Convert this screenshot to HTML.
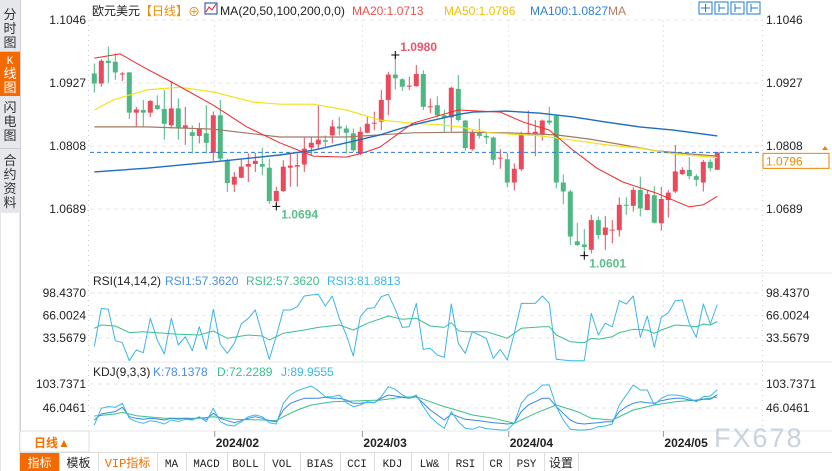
<!DOCTYPE html>
<html><head><meta charset="utf-8"><style>
body{margin:0;background:#fff;overflow:hidden}
svg{display:block;font-family:"Liberation Sans","Noto Sans CJK SC",sans-serif}
.mono{font-family:"Liberation Mono","Noto Sans CJK SC",monospace}
</style></head><body>
<svg id="c" width="832" height="471" viewBox="0 0 832 471">
<rect x="0" y="0" width="832" height="471" fill="#fff"/>
<g>
<rect x="0" y="0" width="20" height="471" fill="#e6e7ec"/>
<rect x="20" y="0" width="1" height="471" fill="#d0d0d8"/>
<g><text x="10" y="19" font-size="13" text-anchor="middle" fill="#333">分</text><text x="10" y="33" font-size="13" text-anchor="middle" fill="#333">时</text><text x="10" y="47" font-size="13" text-anchor="middle" fill="#333">图</text></g>
<rect x="0" y="51" width="20" height="1" fill="#ccc"/>
<g><rect x="0" y="52" width="20" height="44" fill="#f56a00"/><text x="10" y="64" font-size="11" text-anchor="middle" fill="#fff" class="mono">K</text><text x="10" y="78" font-size="13" text-anchor="middle" fill="#fff">线</text><text x="10" y="92" font-size="13" text-anchor="middle" fill="#fff">图</text></g>
<g><text x="10" y="112" font-size="13" text-anchor="middle" fill="#333">闪</text><text x="10" y="126" font-size="13" text-anchor="middle" fill="#333">电</text><text x="10" y="140" font-size="13" text-anchor="middle" fill="#333">图</text></g>
<rect x="0" y="148" width="20" height="1" fill="#ccc"/>
<g><text x="10" y="165" font-size="13" text-anchor="middle" fill="#333">合</text><text x="10" y="179" font-size="13" text-anchor="middle" fill="#333">约</text><text x="10" y="193" font-size="13" text-anchor="middle" fill="#333">资</text><text x="10" y="207" font-size="13" text-anchor="middle" fill="#333">料</text></g>
<rect x="1" y="213" width="18" height="258" fill="#fff"/>
</g>
<g font-size="12">
<text x="92" y="15" fill="#222">欧元美元</text>
<text x="140" y="15" fill="#f08a00">【日线】</text>
<text x="188" y="16" fill="#f08a00">⊕</text>
<rect x="205" y="3" width="12" height="11" fill="#fff" stroke="#1a3fa0"/>
<polyline points="206,12 209,7 212,10 216,4" fill="none" stroke="#e02020"/>
<text x="220" y="15" fill="#222" textLength="125" lengthAdjust="spacingAndGlyphs">MA(20,50,100,200,0,0)</text>
<text x="352" y="15" fill="#f05050">MA20:1.0713</text>
<text x="444" y="15" fill="#f0c000">MA50:1.0786</text>
<text x="530" y="15" fill="#3080d0">MA100:1.0827</text>
<text x="608" y="15" fill="#b08060">MA</text>
<g fill="#fff" stroke="#1a7ad0" stroke-width="1">
<rect x="699" y="2" width="13" height="12"/>
<rect x="715" y="2" width="13" height="12"/>
<rect x="731" y="2" width="13" height="12"/>
<rect x="747" y="2" width="13" height="12"/>
</g>
<g stroke="#1a7ad0" fill="none"><path d="M705.5 4v8M701 8h9M719 4v8M719 8h6M735 4v8M735 8h6M751 4v8M751 8h7"/></g>
</g>
<g stroke="#e3e8ec" fill="none">
<line x1="90" y1="273" x2="832" y2="273"/>
<line x1="90" y1="362" x2="832" y2="362"/>
<line x1="20" y1="431" x2="832" y2="431"/>
<line x1="762.5" y1="20" x2="762.5" y2="430" stroke="#ccc" stroke-dasharray="1,4"/>
<line x1="88.5" y1="20" x2="88.5" y2="430" stroke="#ccc" stroke-dasharray="1,4"/>
</g>
<g id="grid"></g>
<g id="marks"></g>
<g id="axes" font-size="12" fill="#222"></g>
<g font-size="12">
<text x="93" y="285" fill="#222">RSI(14,14,2)</text>
<text x="165" y="285" fill="#4a90e2">RSI1:57.3620</text>
<text x="246" y="285" fill="#3cc08a">RSI2:57.3620</text>
<text x="327" y="285" fill="#3bb6e8">RSI3:81.8813</text>
</g>
<g font-size="12">
<text x="93" y="376" fill="#222">KDJ(9,3,3)</text>
<text x="153" y="376" fill="#4a8ee6">K:78.1378</text>
<text x="217" y="376" fill="#3cc08a">D:72.2289</text>
<text x="281" y="376" fill="#3bb6e8">J:89.9555</text>
</g>
<text x="714" y="447" font-size="27" fill="#c9d3dd" letter-spacing="2">FX678</text>
<g font-size="12" fill="#222" font-weight="bold">
<rect x="20" y="431" width="69" height="21" fill="#fff" stroke="#ddd"/>
<text x="34" y="447" fill="#f07000" font-weight="bold">日线▲</text>
</g>
<g id="dates" font-size="12" font-weight="bold" fill="#222"></g>
<g class="mono" font-size="11">
<rect x="20" y="452" width="812" height="19" fill="#fff"/>
<line x1="20" y1="452.5" x2="832" y2="452.5" stroke="#ddd"/>
<g id="tabs"></g>
</g>
</svg>
<script>
// ===== data =====
const dates = ["2024/02","2024/03","2024/04","2024/05"];
const dateIdx = [17.2, 38.3, 59.2, 81.3];
const priceTicks = [1.1046, 1.0927, 1.0808, 1.0689];
const rsiTicks = [98.4370, 66.0024, 33.5679];
const kdjTicks = [103.7371, 46.0461];
const opens = [1.0945,1.0926,1.0969,1.0967,1.0943,1.0947,1.0871,1.0876,1.0871,1.0885,1.0878,1.0847,1.0879,1.0842,1.0834,1.0827,1.0832,1.0795,1.0866,1.0781,1.0735,1.0748,1.0769,1.0774,1.0774,1.0767,1.0704,1.0723,1.0767,1.0769,1.0773,1.0805,1.0811,1.0819,1.0828,1.0845,1.0841,1.0832,1.0794,1.0833,1.0851,1.0854,1.0895,1.0943,1.0934,1.0920,1.0921,1.0944,1.0881,1.0885,1.0866,1.0862,1.0916,1.0856,1.0802,1.0833,1.0827,1.0824,1.0785,1.0783,1.0739,1.0764,1.0831,1.0831,1.0830,1.0856,1.0865,1.0739,1.0722,1.0628,1.0622,1.0612,1.0668,1.0640,1.0649,1.0649,1.0697,1.0695,1.0725,1.0687,1.0715,1.0662,1.0706,1.0722,1.0755,1.0763,1.0751,1.0739,1.0778,1.0763];
const highs = [1.0964,1.0972,1.0996,1.0983,1.0948,1.0948,1.0882,1.0895,1.0895,1.0904,1.0914,1.0931,1.0898,1.0882,1.0847,1.0852,1.0885,1.0873,1.0895,1.0784,1.0759,1.0784,1.0794,1.0795,1.0805,1.0784,1.0731,1.0781,1.0794,1.0794,1.0825,1.0825,1.0885,1.0828,1.0857,1.0863,1.0847,1.0841,1.0844,1.0863,1.0873,1.0914,1.0948,1.0980,1.0936,1.0939,1.0961,1.0951,1.0898,1.0902,1.0876,1.0920,1.0942,1.0857,1.0838,1.0860,1.0835,1.0826,1.0802,1.0795,1.0775,1.0835,1.0875,1.0857,1.0858,1.0882,1.0867,1.0754,1.0725,1.0663,1.0651,1.0678,1.0675,1.0676,1.0668,1.0711,1.0711,1.0730,1.0750,1.0725,1.0732,1.0731,1.0725,1.0810,1.0768,1.0787,1.0755,1.0782,1.0783,1.0797];
const lows = [1.0909,1.0920,1.0928,1.0933,1.0931,1.0859,1.0844,1.0844,1.0863,1.0876,1.0820,1.0841,1.0820,1.0810,1.0794,1.0813,1.0794,1.0780,1.0780,1.0721,1.0721,1.0747,1.0740,1.0759,1.0753,1.0699,1.0694,1.0721,1.0731,1.0731,1.0759,1.0791,1.0803,1.0807,1.0813,1.0828,1.0794,1.0797,1.0791,1.0832,1.0838,1.0838,1.0866,1.0915,1.0912,1.0914,1.0920,1.0876,1.0870,1.0863,1.0835,1.0835,1.0854,1.0799,1.0799,1.0822,1.0812,1.0772,1.0765,1.0730,1.0724,1.0761,1.0829,1.0789,1.0818,1.0848,1.0728,1.0698,1.0621,1.0619,1.0601,1.0605,1.0632,1.0612,1.0624,1.0637,1.0678,1.0684,1.0675,1.0687,1.0662,1.0648,1.0673,1.0719,1.0753,1.0745,1.0732,1.0722,1.0760,1.0763];
const closes = [1.0926,1.0969,1.0965,1.0947,1.0945,1.0871,1.0877,1.0871,1.0893,1.0878,1.0850,1.0879,1.0841,1.0847,1.0827,1.0841,1.0814,1.0866,1.0784,1.0738,1.0750,1.0769,1.0774,1.0780,1.0769,1.0704,1.0723,1.0769,1.0771,1.0772,1.0803,1.0814,1.0820,1.0816,1.0845,1.0841,1.0833,1.0800,1.0835,1.0850,1.0852,1.0895,1.0943,1.0936,1.0920,1.0922,1.0944,1.0882,1.0883,1.0866,1.0862,1.0918,1.0857,1.0804,1.0833,1.0827,1.0824,1.0782,1.0786,1.0739,1.0765,1.0830,1.0833,1.0835,1.0856,1.0852,1.0739,1.0722,1.0637,1.0621,1.0617,1.0668,1.0640,1.0654,1.0650,1.0697,1.0695,1.0725,1.0690,1.0717,1.0663,1.0708,1.0720,1.0760,1.0763,1.0751,1.0744,1.0778,1.0766,1.0796];
const ma20Idx = [0,3.7,7,11.3,17,21.8,26.5,31.3,36,38.4,40.8,45.5,52,58,61.3,65,68.4,71.8,75.5,80.3,85,87,89];
const ma20Val = [1.0974,1.0982,1.0957,1.0927,1.0885,1.0844,1.0814,1.0789,1.0787,1.0795,1.0806,1.0851,1.0876,1.0872,1.0853,1.0838,1.0800,1.0766,1.0740,1.0719,1.0693,1.0697,1.0713];
const ma50Idx = [0,2.7,7.5,12.2,17,22.7,26.5,31.3,36,40.8,45.5,49.4,52.2,56.5,63.7,68.4,73.2,77.9,82.7,89];
const ma50Val = [1.0876,1.0895,1.0914,1.0919,1.0910,1.0891,1.0887,1.0887,1.0876,1.0857,1.0851,1.0848,1.0844,1.0833,1.0827,1.0819,1.0810,1.0804,1.0793,1.0786];
const ma100Idx = [0,7.5,17,26.5,31.3,36,40.8,45.5,52.2,54.1,58.9,63.7,68.4,73.2,77.9,82.7,89];
const ma100Val = [1.0759,1.0766,1.0778,1.0791,1.0800,1.0814,1.0829,1.0848,1.0868,1.0872,1.0874,1.0870,1.0863,1.0853,1.0844,1.0838,1.0827];
const ma200Idx = [0,7.5,17,26.5,36,45.5,52.2,58.9,66,70.8,75.5,80.3,85,89];
const ma200Val = [1.0844,1.0844,1.0840,1.0825,1.0825,1.0833,1.0834,1.0833,1.0829,1.0821,1.0810,1.0799,1.0793,1.0789];
const rsi3 = [21.1,76.3,74.9,29.7,26.8,0.9,16.3,12.4,61.9,30.7,10.5,61.9,23.5,35.5,15.3,49.9,17.2,74.9,24.9,11.5,25.9,53.8,61.9,73.9,37.9,2.8,36.5,73.9,73.9,78.7,94.1,95.5,96.5,79.7,94.1,61.9,37.9,7.6,64.3,76.3,77.3,93.2,96.5,74.9,48.9,49.9,83.5,17.2,18.7,9.1,5.7,82.6,25.9,11.5,42.7,37.9,33.1,4.3,17.2,1.9,40.3,83.5,83.5,83.5,94.1,83.5,2.8,1.9,0.9,0.9,0.9,69.1,37.9,54.7,49.9,87.4,82.6,94.1,34.5,65.3,20.1,63.4,70.1,87.4,88.3,54.7,34.5,82.6,53.8,81.9];
const rsi1Idx = [0,1,3,5,7,10,12,15,17,19,22,24,25,27,30,32,35,37,39,42,44,46,48,50,51,52,53,54,56,58,59,61,64,65,66,68,70,71,72,74,75,77,79,80,81,83,85,86,87,88,89];
const rsi1Val = [47.5,52.3,50.9,41.3,42.7,40.3,38.9,37.9,43.7,33.1,37.9,36.5,30.7,40.3,45.1,48.9,52.3,45.1,54.7,65.3,60.5,61.9,50.9,48.9,55.7,44.1,42.7,42.7,42.7,36.5,33.1,47.5,49.9,49.9,37.9,28.3,26.8,33.1,31.7,35.5,41.3,46.1,45.1,40.3,45.1,52.3,50.9,49.9,53.8,52.3,57.4];
const kdjJ = [5.2,45.3,49.3,47.7,57.3,21.2,13.2,9.2,15.6,13.2,7.6,17.2,13.2,18.8,17.2,25.2,13.2,45.3,13.2,5.2,2.8,13.2,25.2,29.2,25.2,10.8,7.6,57.3,77.3,87.7,93.3,98.9,87.7,73.3,73.3,77.3,58.9,49.3,53.3,61.3,58.9,73.3,97.3,90.9,77.3,69.3,77.3,49.3,25.2,9.2,-2.8,37.3,13.2,-2.8,-5.2,1.2,-3.6,-5.2,-6.8,-6.8,9.2,57.3,77.3,85.3,101.3,101.3,49.3,17.2,-5.2,-6.8,-6.8,-5.2,1.2,2.8,7.6,53.3,77.3,101.3,89.3,89.3,53.3,69.3,77.3,77.3,74.9,69.3,61.3,73.3,74.9,90.0];
const kdjK = [17.2,31.6,34.8,37.3,47.7,25.2,21.2,18.8,21.2,19.6,17.2,21.2,18.8,21.2,18.8,22.8,18.8,33.2,21.2,15.6,10.8,15.6,21.2,25.2,21.2,15.6,13.2,41.3,57.3,63.7,69.3,69.3,69.3,71.7,69.3,69.3,65.3,57.3,57.3,59.7,58.9,69.3,77.3,74.9,71.7,69.3,73.3,57.3,41.3,29.2,17.2,31.6,25.2,18.8,17.2,15.6,13.2,10.8,9.2,7.6,9.2,37.3,53.3,61.3,69.3,69.3,49.3,33.2,17.2,9.2,7.6,9.2,10.8,13.2,13.2,37.3,49.3,57.3,61.3,58.9,57.3,63.7,66.9,69.3,69.3,65.3,63.7,66.9,66.9,78.1];
const kdjDIdx = [0,3,4,6,10,15,17,20,24,26,27,29,31,34,38,41,44,46,48,50,52,54,57,60,63,66,69,71,74,77,80,83,86,89];
const kdjDVal = [26.8,31.6,35.6,27.6,21.2,21.2,25.2,18.8,17.2,15.6,25.2,41.3,53.3,61.3,63.7,65.3,71.7,73.3,61.3,49.3,39.7,29.2,21.2,9.2,33.2,53.3,37.3,21.2,17.2,41.3,53.3,61.3,65.3,72.2];
const lastPrice = 1.0796;
const toolbarTabs = ["指标","模板","VIP指标","MA","MACD","BOLL","VOL","BIAS","CCI","KDJ","LW&","RSI","CR","PSY","设置"];
const toolbarEdges = [20,59,98,157,186,227,264,300,340,374,411,448,483,509,544,578];

const X = i => 94.3 + 7*i;
const YP = p => 20 + (1.1046 - p)*5294;
const YR = v => 293 + (98.437 - v)*0.6937;
const YK = v => 384 + (103.737 - v)/2.404;
const NS = "http://www.w3.org/2000/svg";
function mk(tag, attrs, parent){const e=document.createElementNS(NS,tag);for(const k in attrs)e.setAttribute(k,attrs[k]);parent.appendChild(e);return e;}
const grid=document.getElementById('grid'), marks=document.getElementById('marks'), axes=document.getElementById('axes');

priceTicks.forEach(p=>{
  const l=mk('line',{x1:90,x2:762,y1:YP(p),y2:YP(p),stroke:'#e6e6e6','stroke-dasharray':'4,4'},grid);
  
  
  const t=mk('text',{x:86,y:YP(p)+4,'text-anchor':'end'},axes); t.textContent=p.toFixed(4);
  
  
  const t2=mk('text',{x:766,y:YP(p)+4},axes); t2.textContent=p.toFixed(4);
  
  
});
rsiTicks.forEach(v=>{
  const l=mk('line',{x1:90,x2:762,y1:YR(v),y2:YR(v),stroke:'#e6e6e6','stroke-dasharray':'4,4'},grid);
  
  
  const t=mk('text',{x:86,y:YR(v)+4,'text-anchor':'end'},axes); t.textContent=v.toFixed(4);
  
  
  const t2=mk('text',{x:766,y:YR(v)+4},axes); t2.textContent=v.toFixed(4);
  
  
});
kdjTicks.forEach(v=>{
  const l=mk('line',{x1:90,x2:762,y1:YK(v),y2:YK(v),stroke:'#e6e6e6','stroke-dasharray':'4,4'},grid);
  
  
  const t=mk('text',{x:86,y:YK(v)+4,'text-anchor':'end'},axes); t.textContent=v.toFixed(4);
  
  
  const t2=mk('text',{x:766,y:YK(v)+4},axes); t2.textContent=v.toFixed(4);
  
  
});
const dg=document.getElementById('dates');
dates.forEach((d,k)=>{
  const x=X(dateIdx[k]);
  const l=mk('line',{x1:x,x2:x,y1:20,y2:430,stroke:'#e6e6e6','stroke-dasharray':'2,3'},grid);
  
  
  mk('line',{x1:x,x2:x,y1:431,y2:437,stroke:'#999'},dg);
  const t=mk('text',{x:x+1,y:447},dg); t.textContent=d;
  
  
});

const UP='#ea4b5c', DN='#4db883';
for(let i=0;i<closes.length;i++){
  const up=closes[i]>=opens[i], col=up?UP:DN, x=X(i);
  const g=mk('g',{},marks);
  
  
  mk('line',{x1:x,x2:x,y1:YP(highs[i]),y2:YP(lows[i]),stroke:col,'stroke-width':1},g);
  const top=YP(Math.max(opens[i],closes[i])), bot=YP(Math.min(opens[i],closes[i]));
  mk('rect',{x:x-2.5,y:top,width:5,height:Math.max(1,bot-top),fill:col},g);
}
function line(idx, vals, ys, color, name, w){
  const pts=vals.map((v,k)=>X(idx?idx[k]:k).toFixed(1)+','+ys(v).toFixed(1)).join(' ');
  const pl=mk('polyline',{points:pts,fill:'none',stroke:color,'stroke-width':w||1,'stroke-linejoin':'round'},marks);
  
  
}
line(ma200Idx,ma200Val,YP,'#a37a64','ma200-line',1.2);
line(ma50Idx,ma50Val,YP,'#f2e21a','ma50-line',1.2);
line(ma100Idx,ma100Val,YP,'#1f6dbd','ma100-line',1.4);
line(ma20Idx,ma20Val,YP,'#f02a2a','ma20-line',1);
const cp=mk('line',{x1:90,x2:762,y1:YP(lastPrice),y2:YP(lastPrice),stroke:'#2a7ad8','stroke-dasharray':'4,3'},marks);


const lb=mk('rect',{x:763,y:YP(lastPrice)+1,width:66,height:15,fill:'#fff',stroke:'#f08000'},marks);


const lt=mk('text',{x:766,y:YP(lastPrice)+13,'font-size':12,fill:'#f08a00'},marks); lt.textContent=lastPrice.toFixed(4);
mk('path',{d:'M822 150l3-4 3 4z',fill:'#f08000'},marks);
function annot(i,p,txt,col,dy){
  const x=X(i),y=YP(p);
  mk('path',{d:`M${x-4} ${y}h8M${x} ${y-4}v8`,stroke:'#000'},marks);
  const t=mk('text',{x:x+5,y:y+dy,'font-size':12,'font-weight':'bold',fill:col},marks); t.textContent=txt;
  
  
}
let hi=30,lo=0,lo1=0;
for(let i=30;i<60;i++) if(highs[i]>highs[hi]) hi=i;
lows.forEach((l,i)=>{if(l<lows[lo])lo=i;});
for(let i=0;i<50;i++) if(lows[i]<lows[lo1]) lo1=i;
annot(hi,highs[hi],highs[hi].toFixed(4),'#f0506a',-4);
annot(lo1,lows[lo1],lows[lo1].toFixed(4),'#5cbf8a',12);
annot(lo,lows[lo],lows[lo].toFixed(4),'#5cbf8a',12);
line(rsi1Idx,rsi1Val,YR,'#3cc08a','rsi1-line',1);
line(null,rsi3,YR,'#3bb6e8','rsi3-line',1);
line(kdjDIdx,kdjDVal,YK,'#3cc08a','kdj-d-line',1);
line(null,kdjK,YK,'#3a86e6','kdj-k-line',1);
line(null,kdjJ,YK,'#38b8ea','kdj-j-line',1);
const tb=document.getElementById('tabs');
toolbarTabs.forEach((name,k)=>{
  const x0=toolbarEdges[k], x1=toolbarEdges[k+1];
  const g=mk('g',{},tb);
  
  
  if(k===0) mk('rect',{x:x0,y:453,width:x1-x0,height:18,fill:'#f56a00'},g);
  mk('line',{x1:x1+0.5,x2:x1+0.5,y1:453,y2:471,stroke:'#ddd'},g);
  const t=mk('text',{x:(x0+x1)/2,y:467,'text-anchor':'middle',fill:k===0?'#fff':(k===2?'#f07000':'#222'),'font-size':k<3||k===14?12:11},g);
  t.textContent=name;
});
</script>
</body></html>
